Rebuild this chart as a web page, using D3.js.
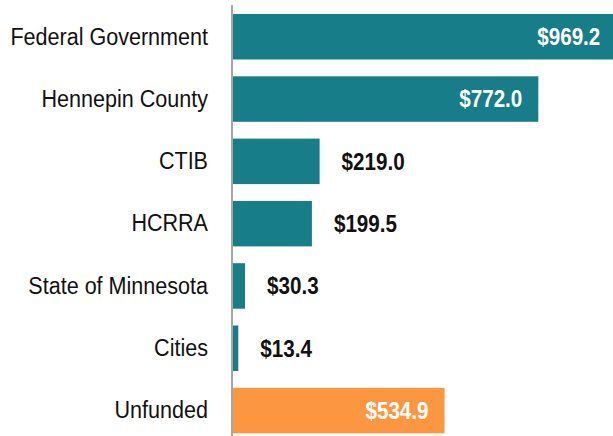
<!DOCTYPE html>
<meta charset="utf-8">
<script src="https://d3js.org/d3.v7.min.js"></script>
<style>
  body { margin: 0; background: #fff; }
  .cat { font-family: "Liberation Sans", Arial, sans-serif; font-size: 24.5px; fill: #111; }
  .val { font-family: "Liberation Sans", Arial, sans-serif; font-size: 24px; font-weight: bold; }
</style>
<body>
<div id="chart"></div>
<script>
// funding sources ($ millions)
var categories = ["Federal Government", "Hennepin County", "CTIB", "HCRRA",
                  "State of Minnesota", "Cities", "Unfunded"];
var amounts = [969.2, 772.0, 219.0, 199.5, 30.3, 13.4, 534.9];
var labels = ["$969.2", "$772.0", "$219.0", "$199.5", "$30.3", "$13.4", "$534.9"];

var width = 613, height = 436;
var axisX = 233;
// the original uses narrow type, squeeze the text horizontally
var catSqueeze = 0.88, valSqueeze = 0.86;

var svg = d3.select("#chart").append("svg")
    .attr("width", width)
    .attr("height", height);

var x = d3.scaleLinear()
    .domain([0, 1000])
    .range([axisX, 628.5]);

var y = d3.scaleBand()
    .domain(categories)
    .range([5.6, 441.7])
    .paddingInner(0.27)
    .paddingOuter(0.135);

var data = categories.map(function(c, i) {
  return {name: c, value: amounts[i], label: labels[i]};
});

// bars
svg.selectAll("rect.bar")
  .data(data)
  .enter().append("rect")
    .attr("class", "bar")
    .attr("x", x(0))
    .attr("y", function(d) { return y(d.name); })
    .attr("width", function(d) { return x(d.value) - x(0); })
    .attr("height", y.bandwidth())
    .attr("fill", function(d) { return d.name == "Unfunded" ? "#fd9640" : "#177d88"; });

// left axis, labels only
var yAxis = svg.append("g")
    .attr("transform", "translate(" + axisX + ",0)")
    .call(d3.axisLeft(y).tickSize(0).tickPadding(25));
yAxis.select(".domain").remove();
yAxis.selectAll("text")
    .attr("class", "cat")
    .attr("font-family", null)
    .attr("font-size", null)
    .attr("x", 0)
    .attr("transform", "translate(-25,0) scale(" + catSqueeze + ",1)");

svg.append("line")
    .attr("x1", axisX - 1).attr("x2", axisX - 1)
    .attr("y1", 5).attr("y2", height)
    .attr("stroke", "#a6a6a6")
    .attr("stroke-width", 2);

// value labels: inside big bars, outside small ones
svg.selectAll("text.val")
  .data(data)
  .enter().append("text")
    .attr("class", "val")
    .attr("dy", "0.35em")
    .attr("transform", function(d) {
      var tx = d.value > 400 ? x(d.value) - 16 : x(d.value) + 22;
      var ty = y(d.name) + y.bandwidth() / 2;
      return "translate(" + tx + "," + ty + ") scale(" + valSqueeze + ",1)";
    })
    .attr("text-anchor", function(d) { return d.value > 400 ? "end" : "start"; })
    .attr("fill", function(d) { return d.value > 400 ? "#fff" : "#111"; })
    .text(function(d) { return d.label; });
</script>
</body>
